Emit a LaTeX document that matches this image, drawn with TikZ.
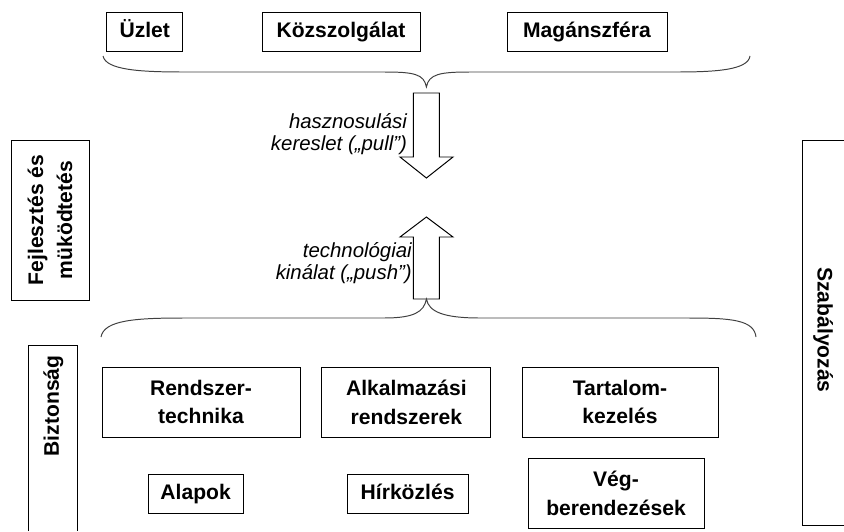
\documentclass[tikz,border=0pt]{standalone}
\usepackage{fontspec}
\setmainfont{Liberation Sans}
\usepackage{tikz}

\begin{document}
\begin{tikzpicture}[
  doboz/.style={draw, line width=0.7pt, align=center, inner sep=0pt,
    font=\fontsize{15}{20.5}\selectfont\bfseries},
  egysor/.style={text height=11pt, text depth=2pt},
  felirat/.style={inner sep=0pt, align=right,
    font=\fontsize{14.5}{15.5}\selectfont\itshape},
  kapcsos/.style={line width=0.7pt, black!75},
  tomb/.style={draw, line width=0.7pt, fill=white}
]

\useasboundingbox (0,0) rectangle (21.1,-13.275);

% Felhasznalasi teruletek
\node[doboz, egysor, minimum width=1.9cm, minimum height=0.975cm] (uzlet) at (3.62,-0.79) {Üzlet};
\node[doboz, egysor, minimum width=3.95cm, minimum height=0.975cm] (kozsz) at (8.525,-0.79) {Közszolgálat};
\node[doboz, egysor, minimum width=4cm, minimum height=0.975cm] (magan) at (14.675,-0.79) {Magánszféra};

% Felso kapcsos zarojel
\draw[kapcsos] (2.575,-1.4) .. controls (2.65,-1.75) and (3.5,-1.8) .. (4.6,-1.8)
  -- (9.6,-1.8) .. controls (10.35,-1.8) and (10.6,-1.85) .. (10.66,-2.175)
  .. controls (10.72,-1.85) and (11.0,-1.8) .. (11.75,-1.8)
  -- (16.9,-1.8) .. controls (17.9,-1.8) and (18.7,-1.75) .. (18.75,-1.4);

% Lefele mutato nyil
\draw[tomb] (10.335,-2.325) -- (10.985,-2.325) -- (10.985,-3.925) -- (11.325,-3.925)
  -- (10.66,-4.45) -- (10.0,-3.925) -- (10.335,-3.925) -- cycle;
\node[felirat, anchor=east] (pull) at (10.18,-3.35) {hasznosulási\\kereslet („pull")};

% Felfele mutato nyil
\draw[tomb] (10.335,-7.475) -- (10.335,-5.925) -- (10.0,-5.925) -- (10.66,-5.425)
  -- (11.325,-5.925) -- (10.985,-5.925) -- (10.985,-7.475) -- cycle;
\node[felirat, anchor=east] (push) at (10.3,-6.575) {technológiai\\kinálat („push”)};

% Also kapcsos zarojel
\draw[kapcsos] (2.525,-8.425) .. controls (2.6,-8.0) and (3.4,-7.95) .. (4.6,-7.95)
  -- (9.6,-7.95) .. controls (10.35,-7.95) and (10.6,-7.8) .. (10.66,-7.475)
  .. controls (10.72,-7.8) and (11.1,-7.95) .. (12.0,-7.95)
  -- (17.2,-7.95) .. controls (18.3,-7.95) and (18.85,-8.0) .. (18.9,-8.425);

% Technologiai teruletek
\node[doboz, minimum width=4.95cm, minimum height=1.75cm] (rendsz) at (5.025,-10.05) {Rendszer-\\technika};
\node[doboz, minimum width=4.225cm, minimum height=1.75cm] (alkalm) at (10.16,-10.05) {Alkalmazási\\rendszerek};
\node[doboz, minimum width=4.9cm, minimum height=1.75cm] (tartal) at (15.5,-10.05) {Tartalom-\\kezelés};

\node[doboz, egysor, minimum width=2.375cm, minimum height=0.975cm] (alapok) at (4.89,-12.34) {Alapok};
\node[doboz, egysor, minimum width=3.025cm, minimum height=0.975cm] (hirk) at (10.19,-12.34) {Hírközlés};
\node[doboz, minimum width=4.4cm, minimum height=1.75cm] (vegb) at (15.4,-12.325) {Vég-\\berendezések};

% Oldalso savok
\node[doboz, rotate=90, minimum width=4cm, minimum height=1.95cm] (fejl) at (1.25,-5.5) {Fejlesztés és\\müködtetés};

\draw[line width=0.7pt] (0.7,-13.275) -- (0.7,-8.625) -- (1.925,-8.625) -- (1.925,-13.275);
\node[doboz, egysor, draw=none, rotate=90] (bizt) at (1.3125,-10.15) {Biztonság};

\draw[line width=0.7pt] (21.1,-3.5) -- (20.05,-3.5) -- (20.05,-13.125) -- (21.1,-13.125);
\node[doboz, egysor, draw=none, rotate=-90] (szab) at (20.6,-8.25) {Szabályozás};

\end{tikzpicture}
\end{document}
